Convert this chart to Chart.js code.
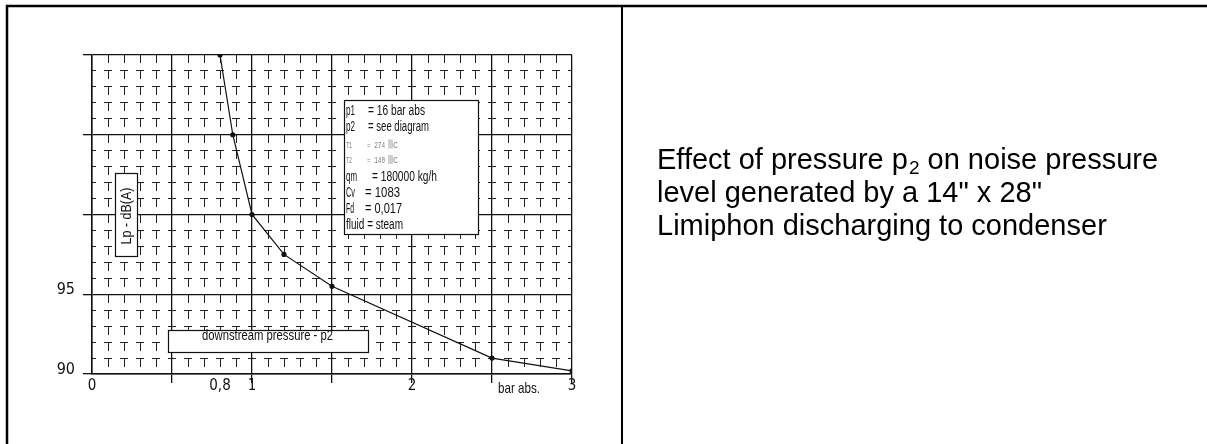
<!DOCTYPE html>
<html>
<head>
<meta charset="utf-8">
<script src="https://cdn.jsdelivr.net/npm/chart.js@4.4.0/dist/chart.umd.min.js"></script>
<style>
html, body { margin: 0; padding: 0; background: #fff; overflow: hidden; }
canvas { display: block; }
</style>
</head>
<body>
<canvas id="chart" width="1207" height="444"></canvas>
<script>
// curve: downstream pressure (bar abs.) vs Lp (dB(A))
const pressure = [0.8, 0.88, 1.0, 1.2, 1.5, 2.5, 3.0];
const noiseLevel = [110, 105, 100, 97.5, 95.5, 91.0, 90.2];

const xTickValues = [0, 0.5, 0.8, 1, 1.5, 2, 2.5, 3];
const xTickLabels = ["0", "", "0,8", "1", "", "2", "", "3"];
const yTickValues = [90, 95, 100, 105, 110];
const yTickLabels = ["90", "95", "", "", ""];

const paramNames = ["p1", "p2", "T1", "T2", "qm", "Cv", "Fd"];
const paramValues = ["= 16 bar abs", "= see diagram", "= 274", "= 140", "= 180000 kg/h", "= 1083", "= 0,017"];
const fluidLine = "fluid = steam";
const xTitle = "downstream pressure - p2";
const yTitle = "Lp - dB(A)";
const xUnit = "bar abs.";
const captionLines = ["Effect of pressure p", " on noise pressure", "level generated by a 14\" x 28\"", "Limiphon discharging to condenser"];

const CAD = '"Liberation Sans", Arial, sans-serif';
const NARROW = "'Liberation Sans Narrow', 'DejaVu Sans Condensed', sans-serif";

// draws text squeezed to a given width (the CAD font is very narrow)
const fitText = (ctx, str, x, y, width, font) => {
    ctx.save();
    ctx.font = font;
    const w = ctx.measureText(str).width;
    ctx.translate(x, y);
    ctx.scale(width / w, 1);
    ctx.textAlign = "left";
    ctx.textBaseline = "alphabetic";
    ctx.fillText(str, 0, 0);
    ctx.restore();
};

const boxRect = (ctx, x, y, w, h) => {
    ctx.save();
    ctx.fillStyle = "#fff";
    ctx.fillRect(x, y, w, h);
    ctx.strokeStyle = "#111";
    ctx.lineWidth = 1.2;
    ctx.strokeRect(x + 0.5, y + 0.5, w, h);
    ctx.restore();
};

const sketchPlugin = {
    id: "sketch",
    beforeDraw(chart) {
        const ctx = chart.ctx;
        ctx.save();
        ctx.fillStyle = "#fff";
        ctx.fillRect(0, 0, chart.width, chart.height);
        ctx.restore();
    },
    beforeDatasetsDraw(chart) {
        const ctx = chart.ctx;
        ctx.save();
        ctx.fillStyle = "#111";

        // y title box
        boxRect(ctx, 115, 173, 22, 83);
        ctx.save();
        ctx.translate(131, 216);
        ctx.rotate(-Math.PI / 2);
        ctx.font = "15px " + CAD;
        const yw = ctx.measureText(yTitle).width;
        ctx.scale(57 / yw, 1);
        ctx.textAlign = "center";
        ctx.textBaseline = "alphabetic";
        ctx.fillStyle = "#111";
        ctx.fillText(yTitle, 0, 0);
        ctx.restore();

        // x title box
        boxRect(ctx, 168, 330, 200, 22);
        ctx.fillStyle = "#111";
        fitText(ctx, xTitle, 202, 340, 131, "14px " + CAD);

        // parameter box
        boxRect(ctx, 344, 100, 134, 134);
        const rows = [
            { y: 115, nameW: 9, valX: 368, valW: 57 },
            { y: 131, nameW: 9, valX: 368, valW: 61 },
            { y: 147.5, nameW: 6, valX: 367, valW: 18, small: true },
            { y: 163, nameW: 6, valX: 367, valW: 18, small: true },
            { y: 180.5, nameW: 11, valX: 372, valW: 65 },
            { y: 197, nameW: 9, valX: 365, valW: 35 },
            { y: 213, nameW: 8, valX: 365, valW: 37 }
        ];
        rows.forEach((r, i) => {
            if (r.small) {
                ctx.fillStyle = "#808080";
                const f = '9px "Liberation Mono", "DejaVu Sans Mono", monospace';
                fitText(ctx, paramNames[i], 346, r.y, r.nameW, f);
                fitText(ctx, paramValues[i], r.valX, r.y, r.valW, f);
                ctx.fillStyle = "#d0d0d0";
                ctx.fillRect(388, r.y - 8, 5, 9);
                ctx.fillStyle = "#808080";
                fitText(ctx, "C", 393, r.y, 5, f);
            } else {
                ctx.fillStyle = "#111";
                fitText(ctx, paramNames[i], 346, r.y, r.nameW, "14px " + CAD);
                fitText(ctx, paramValues[i], r.valX, r.y, r.valW, "14px " + CAD);
            }
        });
        ctx.fillStyle = "#111";
        fitText(ctx, fluidLine, 346, 229, 57, "14px " + CAD);
        ctx.restore();
    },
    afterDraw(chart) {
        const ctx = chart.ctx;
        ctx.save();
        ctx.fillStyle = "#111";
        fitText(ctx, xUnit, 498, 393, 42, "15px " + CAD);

        // sheet frame
        ctx.strokeStyle = "#000";
        ctx.lineWidth = 2.5;
        ctx.beginPath();
        ctx.moveTo(6, 6); ctx.lineTo(1207, 6);
        ctx.moveTo(7, 5); ctx.lineTo(7, 444);
        ctx.stroke();
        ctx.lineWidth = 2;
        ctx.beginPath();
        ctx.moveTo(622, 6); ctx.lineTo(622, 444);
        ctx.stroke();

        // caption on the right
        ctx.fillStyle = "#000";
        ctx.textAlign = "left";
        ctx.textBaseline = "alphabetic";
        const big = "29px " + CAD;
        ctx.font = big;
        let x = 657;
        ctx.fillText(captionLines[0], x, 169);
        x += ctx.measureText(captionLines[0]).width + 1;
        ctx.font = "19px " + CAD;
        ctx.fillText("2", x, 174);
        x += ctx.measureText("2").width;
        ctx.font = big;
        ctx.fillText(captionLines[1], x, 169);
        ctx.fillText(captionLines[2], 657, 202);
        ctx.fillText(captionLines[3], 657, 235);
        ctx.restore();
    }
};

const isMultiple = (v, step) => Math.abs(v / step - Math.round(v / step)) < 1e-6;

new Chart(document.getElementById("chart"), {
    type: "line",
    data: {
        datasets: [{
            data: pressure.map((p, i) => ({ x: p, y: noiseLevel[i] })),
            borderColor: "#111",
            borderWidth: 1.2,
            pointRadius: 2,
            pointBackgroundColor: "#111",
            pointBorderColor: "#111",
            tension: 0,
            xAxisID: "x",
            yAxisID: "y"
        }]
    },
    options: {
        responsive: false,
        animation: false,
        events: [],
        layout: { padding: { left: 0, top: 55, right: 635, bottom: 0 } },
        plugins: { legend: { display: false }, tooltip: { enabled: false } },
        scales: {
            xMinor: {
                type: "linear", position: "bottom", min: 0, max: 3,
                ticks: { display: false, stepSize: 0.1, maxTicksLimit: 100 },
                grid: {
                    drawTicks: false,
                    lineWidth: 1,
                    color: (c) => (c.tick && isMultiple(c.tick.value, 0.5)) ? "rgba(0,0,0,0)" : "#222"
                },
                border: { display: false, dash: [8, 8], dashOffset: 0 },
                afterFit: (s) => { s.height = 0; }
            },
            yMinor: {
                type: "linear", position: "left", min: 90, max: 110,
                ticks: { display: false, stepSize: 1, maxTicksLimit: 100 },
                grid: {
                    drawTicks: false,
                    lineWidth: 1,
                    color: (c) => (c.tick && isMultiple(c.tick.value, 5)) ? "rgba(0,0,0,0)" : "#222"
                },
                border: { display: false, dash: [8, 8], dashOffset: 4 },
                afterFit: (s) => { s.width = 0; }
            },
            x: {
                type: "linear", position: "bottom", min: 0, max: 3,
                afterBuildTicks: (s) => { s.ticks = xTickValues.map(v => ({ value: v })); },
                afterFit: (s) => { s.height = 70; },
                ticks: {
                    autoSkip: false, maxRotation: 0, padding: -6, color: "#111",
                    font: { family: NARROW, size: 15 },
                    callback: (v) => xTickLabels[xTickValues.indexOf(v)]
                },
                grid: {
                    tickLength: 9,
                    lineWidth: 1.3,
                    color: (c) => (c.tick && c.tick.value === 0.8) ? "rgba(0,0,0,0)" : "#111",
                    tickColor: (c) => (c.tick && (c.tick.value === 0.8 || c.tick.value === 0)) ? "rgba(0,0,0,0)" : "#111"
                },
                border: { display: true, color: "#111", width: 1.5 }
            },
            y: {
                type: "linear", position: "left", min: 90, max: 110,
                afterBuildTicks: (s) => { s.ticks = yTickValues.map(v => ({ value: v })); },
                afterFit: (s) => { s.width = 92; },
                ticks: {
                    autoSkip: false, padding: 8, labelOffset: -4, color: "#111",
                    font: { family: NARROW, size: 16 },
                    callback: (v) => yTickLabels[yTickValues.indexOf(v)]
                },
                grid: { tickLength: 9, lineWidth: 1.3, color: "#111", tickColor: "#111" },
                border: { display: true, color: "#111", width: 1.5 }
            }
        }
    },
    plugins: [sketchPlugin]
});
</script>
</body>
</html>
